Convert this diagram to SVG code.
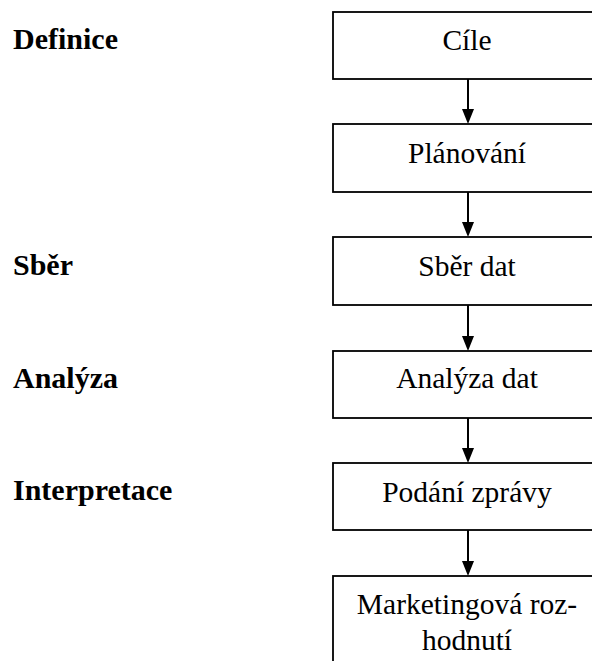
<svg xmlns="http://www.w3.org/2000/svg" width="592" height="661" viewBox="0 0 592 661">
  <defs>
    <style>
      .box { fill: #fff; stroke: #000; stroke-width: 1.8; }
      .t { font-family: "Liberation Serif", "Times New Roman", serif; font-size: 29.5px; fill: #000; text-anchor: middle; }
      .lbl { font-family: "Liberation Serif", "Times New Roman", serif; font-size: 30px; font-weight: bold; fill: #000; }
      .conn { stroke: #000; stroke-width: 2; fill: none; }
      .head { fill: #000; }
    </style>
  </defs>
  <rect width="592" height="661" fill="#fff"/>

  <g id="labels">
    <text class="lbl" x="13" y="49">Definice</text>
    <text class="lbl" x="13" y="275">Sběr</text>
    <text class="lbl" x="13" y="388">Analýza</text>
    <text class="lbl" x="13" y="500">Interpretace</text>
  </g>

  <g id="connectors">
    <line class="conn" x1="468" y1="79" x2="468" y2="110"/>
    <polygon class="head" points="462,109 474,109 468,124"/>
    <line class="conn" x1="468" y1="192" x2="468" y2="223"/>
    <polygon class="head" points="462,222 474,222 468,237"/>
    <line class="conn" x1="468" y1="305" x2="468" y2="337"/>
    <polygon class="head" points="462,336 474,336 468,351"/>
    <line class="conn" x1="468" y1="418" x2="468" y2="449"/>
    <polygon class="head" points="462,448 474,448 468,463"/>
    <line class="conn" x1="468" y1="530" x2="468" y2="562"/>
    <polygon class="head" points="462,561 474,561 468,576"/>
  </g>

  <g id="n1">
    <rect class="box" x="333" y="12" width="270" height="67"/>
    <text class="t" x="467" y="50">Cíle</text>
  </g>
  <g id="n2">
    <rect class="box" x="333" y="124" width="270" height="68"/>
    <text class="t" x="467" y="163">Plánování</text>
  </g>
  <g id="n3">
    <rect class="box" x="333" y="237" width="270" height="68"/>
    <text class="t" x="467" y="276">Sběr dat</text>
  </g>
  <g id="n4">
    <rect class="box" x="333" y="351" width="270" height="67"/>
    <text class="t" x="467" y="388">Analýza dat</text>
  </g>
  <g id="n5">
    <rect class="box" x="333" y="463" width="270" height="67"/>
    <text class="t" x="467" y="502">Podání zprávy</text>
  </g>
  <g id="n6">
    <rect class="box" x="333" y="576" width="270" height="100"/>
    <text class="t" x="467" y="614">Marketingová roz-</text>
    <text class="t" x="467" y="650">hodnutí</text>
  </g>
</svg>
